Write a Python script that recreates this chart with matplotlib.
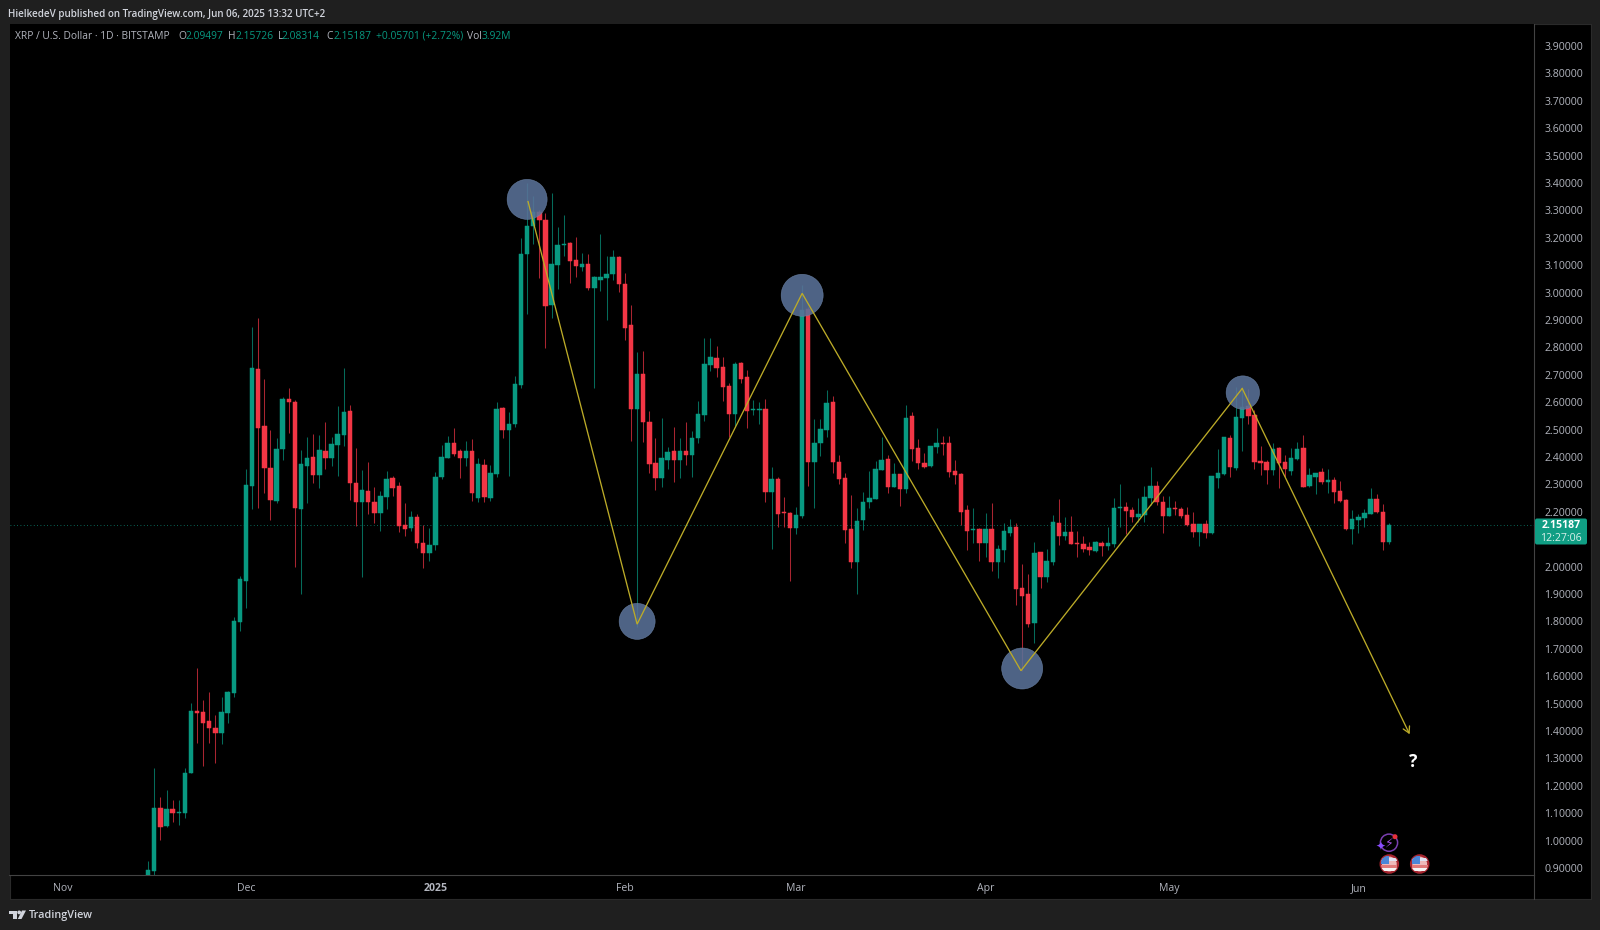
import matplotlib
matplotlib.use("Agg")
import matplotlib.pyplot as plt
import numpy as np
import pandas as pd
from matplotlib.patches import Circle, Rectangle, Polygon, FancyBboxPatch

plt.rcParams["font.family"] = ["Open Sans", "DejaVu Sans"]

## daily candles
dates = pd.date_range("2024-11-15", "2025-06-06")

opens = [
    0.87, 0.89, 1.12, 1.054, 1.115, 1.10, 1.10, 1.246, 1.473, 1.47,
    1.435, 1.412, 1.393, 1.467, 1.54, 1.797, 1.947, 2.295, 2.722, 2.513,
    2.361, 2.239, 2.429, 2.612, 2.602, 2.209, 2.367, 2.399, 2.335, 2.422,
    2.396, 2.444, 2.481, 2.568, 2.306, 2.235, 2.276, 2.237, 2.194, 2.255,
    2.325, 2.294, 2.152, 2.14, 2.181, 2.086, 2.048, 2.08, 2.327, 2.397,
    2.452, 2.421, 2.398, 2.421, 2.25, 2.37, 2.25, 2.337, 2.577, 2.5,
    2.519, 2.662, 3.142, 3.243, 3.294, 3.265, 2.954, 3.10, 3.173, 3.18,
    3.118, 3.093, 3.106, 3.016, 3.046, 3.053, 3.067, 3.13, 3.033, 2.881,
    2.576, 2.702, 2.526, 2.379, 2.324, 2.389, 2.421, 2.39, 2.423, 2.409,
    2.471, 2.553, 2.735, 2.76, 2.73, 2.659, 2.557, 2.744, 2.69, 2.571,
    2.571, 2.576, 2.272, 2.32, 2.198, 2.197, 2.142, 2.186, 2.939, 2.383,
    2.45, 2.499, 2.6, 2.383, 2.323, 2.136, 2.016, 2.17, 2.235, 2.247,
    2.353, 2.393, 2.292, 2.338, 2.282, 2.55, 2.434, 2.377, 2.367, 2.438,
    2.451, 2.451, 2.349, 2.338, 2.207, 2.134, 2.136, 2.085, 2.138, 2.018,
    2.061, 2.122, 2.144, 1.921, 1.899, 1.793, 2.055, 1.961, 2.018, 2.158,
    2.112, 2.127, 2.087, 2.083, 2.07, 2.057, 2.087, 2.076, 2.083, 2.214,
    2.217, 2.207, 2.18, 2.189, 2.25, 2.295, 2.237, 2.186, 2.212, 2.209,
    2.188, 2.155, 2.128, 2.155, 2.122, 2.325, 2.338, 2.471, 2.359, 2.544,
    2.586, 2.553, 2.387, 2.381, 2.353, 2.432, 2.381, 2.35, 2.391, 2.432,
    2.294, 2.326, 2.345, 2.308, 2.316, 2.276, 2.243, 2.136, 2.17, 2.179,
    2.192, 2.247, 2.2, 2.091,
]
highs = [
    0.927, 1.264, 1.158, 1.185, 1.148, 1.148, 1.264, 1.501, 1.631, 1.513,
    1.541, 1.458, 1.525, 1.546, 1.815, 1.965, 2.356, 2.873, 2.906, 2.683,
    2.499, 2.468, 2.62, 2.651, 2.608, 2.426, 2.474, 2.484, 2.48, 2.529,
    2.472, 2.586, 2.724, 2.589, 2.432, 2.352, 2.383, 2.292, 2.276, 2.349,
    2.331, 2.31, 2.233, 2.203, 2.191, 2.151, 2.14, 2.346, 2.443, 2.476,
    2.504, 2.428, 2.458, 2.464, 2.395, 2.391, 2.37, 2.599, 2.581, 2.563,
    2.696, 3.198, 3.398, 3.352, 3.303, 3.289, 3.362, 3.238, 3.283, 3.185,
    3.204, 3.143, 3.14, 3.06, 3.213, 3.133, 3.155, 3.133, 3.07, 2.954,
    2.784, 2.788, 2.569, 2.468, 2.541, 2.437, 2.508, 2.47, 2.529, 2.496,
    2.604, 2.835, 2.833, 2.805, 2.764, 2.669, 2.748, 2.748, 2.718, 2.608,
    2.602, 2.61, 2.365, 2.328, 2.253, 2.198, 2.219, 3.028, 2.949, 2.539,
    2.539, 2.645, 2.623, 2.407, 2.34, 2.261, 2.213, 2.271, 2.349, 2.387,
    2.474, 2.407, 2.377, 2.338, 2.59, 2.563, 2.464, 2.413, 2.44, 2.505,
    2.478, 2.478, 2.389, 2.34, 2.225, 2.213, 2.14, 2.194, 2.233, 2.08,
    2.158, 2.173, 2.158, 2.01, 1.973, 2.089, 2.055, 2.063, 2.189, 2.246,
    2.18, 2.183, 2.13, 2.113, 2.088, 2.095, 2.095, 2.144, 2.25, 2.301,
    2.235, 2.217, 2.25, 2.295, 2.362, 2.314, 2.256, 2.258, 2.241, 2.219,
    2.217, 2.198, 2.155, 2.17, 2.329, 2.428, 2.474, 2.48, 2.657, 2.644,
    2.648, 2.572, 2.44, 2.389, 2.45, 2.435, 2.407, 2.432, 2.456, 2.479,
    2.36, 2.343, 2.359, 2.355, 2.326, 2.314, 2.245, 2.207, 2.192, 2.209,
    2.286, 2.265, 2.228, 2.158,
]
lows = [
    0.87, 0.874, 1.002, 1.05, 1.069, 1.057, 1.081, 1.246, 1.355, 1.273,
    1.357, 1.284, 1.353, 1.43, 1.525, 1.766, 1.849, 2.209, 2.213, 2.27,
    2.17, 2.231, 2.389, 2.486, 2.0, 1.90, 2.231, 2.306, 2.286, 2.355,
    2.367, 2.331, 2.44, 2.243, 2.148, 1.962, 2.191, 2.158, 2.13, 2.209,
    2.259, 2.128, 2.112, 2.131, 2.067, 1.994, 2.02, 2.06, 2.32, 2.395,
    2.403, 2.325, 2.367, 2.24, 2.235, 2.235, 2.24, 2.328, 2.47, 2.33,
    2.51, 2.65, 2.92, 3.177, 3.054, 2.799, 2.908, 3.012, 3.133, 3.036,
    3.055, 3.078, 3.009, 2.65, 3.007, 2.90, 3.046, 3.003, 2.827, 2.459,
    1.78, 2.455, 2.342, 2.28, 2.29, 2.355, 2.31, 2.322, 2.37, 2.328,
    2.45, 2.531, 2.713, 2.693, 2.606, 2.474, 2.511, 2.669, 2.507, 2.552,
    2.52, 2.237, 2.063, 2.146, 2.143, 1.949, 2.119, 2.176, 2.294, 2.213,
    2.405, 2.474, 2.34, 2.301, 2.085, 1.994, 1.90, 2.134, 2.215, 2.247,
    2.353, 2.27, 2.29, 2.221, 2.267, 2.385, 2.355, 2.359, 2.365, 2.416,
    2.407, 2.326, 2.301, 2.152, 2.061, 2.085, 2.022, 2.036, 1.985, 1.96,
    2.015, 2.112, 1.86, 1.62, 1.779, 1.72, 1.921, 1.945, 2.004, 2.079,
    2.098, 2.083, 2.034, 2.055, 2.043, 2.055, 2.04, 2.061, 2.071, 2.146,
    2.119, 2.164, 2.164, 2.164, 2.225, 2.225, 2.124, 2.185, 2.189, 2.177,
    2.149, 2.107, 2.076, 2.106, 2.12, 2.286, 2.336, 2.328, 2.353, 2.423,
    2.52, 2.355, 2.334, 2.301, 2.334, 2.286, 2.326, 2.333, 2.389, 2.289,
    2.292, 2.265, 2.3, 2.27, 2.231, 2.237, 2.133, 2.081, 2.124, 2.143,
    2.192, 2.194, 2.061, 2.083,
]
closes = [
    0.893, 1.12, 1.051, 1.114, 1.10, 1.103, 1.248, 1.473, 1.467, 1.428,
    1.41, 1.393, 1.469, 1.542, 1.803, 1.955, 2.298, 2.725, 2.507, 2.359,
    2.243, 2.43, 2.612, 2.602, 2.213, 2.374, 2.396, 2.334, 2.424, 2.396,
    2.447, 2.484, 2.564, 2.306, 2.235, 2.28, 2.235, 2.194, 2.258, 2.32,
    2.288, 2.148, 2.136, 2.18, 2.085, 2.048, 2.079, 2.327, 2.40, 2.452,
    2.41, 2.396, 2.421, 2.27, 2.374, 2.255, 2.342, 2.574, 2.5, 2.522,
    2.668, 3.14, 3.243, 3.294, 3.265, 2.951, 3.103, 3.172, 3.177, 3.116,
    3.097, 3.106, 3.016, 3.055, 3.055, 3.067, 3.128, 3.031, 2.872, 2.576,
    2.702, 2.526, 2.376, 2.324, 2.398, 2.417, 2.389, 2.421, 2.409, 2.471,
    2.556, 2.739, 2.763, 2.726, 2.657, 2.557, 2.739, 2.685, 2.568, 2.574,
    2.574, 2.272, 2.32, 2.192, 2.194, 2.142, 2.188, 2.937, 2.383, 2.452,
    2.501, 2.598, 2.381, 2.32, 2.134, 2.016, 2.166, 2.237, 2.25, 2.355,
    2.389, 2.292, 2.338, 2.282, 2.542, 2.429, 2.377, 2.365, 2.44, 2.451,
    2.449, 2.345, 2.336, 2.2, 2.131, 2.136, 2.085, 2.138, 2.018, 2.063,
    2.13, 2.144, 1.917, 1.893, 1.79, 2.05, 1.961, 2.022, 2.161, 2.113,
    2.126, 2.083, 2.084, 2.063, 2.061, 2.089, 2.076, 2.087, 2.214, 2.217,
    2.203, 2.18, 2.192, 2.253, 2.295, 2.234, 2.186, 2.212, 2.209, 2.183,
    2.151, 2.128, 2.155, 2.124, 2.329, 2.34, 2.472, 2.365, 2.545, 2.584,
    2.55, 2.383, 2.379, 2.353, 2.428, 2.377, 2.355, 2.396, 2.43, 2.289,
    2.333, 2.343, 2.308, 2.316, 2.273, 2.241, 2.136, 2.174, 2.182, 2.197,
    2.247, 2.198, 2.091, 2.152,
]

last_price = 2.15187

## axis labels
month_dates = ["2024-11-01", "2024-12-01", "2025-01-01", "2025-02-01",
               "2025-03-01", "2025-04-01", "2025-05-01", "2025-06-01"]
month_labels = ["Nov", "Dec", "2025", "Feb", "Mar", "Apr", "May", "Jun"]
price_ticks = [0.9, 1.0, 1.1, 1.2, 1.3, 1.4, 1.5, 1.6, 1.7, 1.8, 1.9, 2.0,
               2.2, 2.3, 2.4, 2.5, 2.6, 2.7, 2.8, 2.9, 3.0, 3.1, 3.2, 3.3,
               3.4, 3.5, 3.6, 3.7, 3.8, 3.9]

## drawing on the chart: yellow zigzag and the blue circles, x in days since Nov 1
zigzag_days = [76.15, 94.0, 121.0, 156.8, 193.0, 220.4]
zigzag_prices = [3.332, 1.79, 2.997, 1.62, 2.65, 1.388]
circle_days = [76.0, 94.0, 121.0, 157.0, 193.1]
circle_prices = [3.34, 1.80, 2.99, 1.628, 2.635]
circle_radius_px = [20, 18, 21, 20.5, 16.7]

GREEN = "#089981"
RED = "#f23645"
TEXT = "#b2b5be"
LINE = "#434343"
YELLOW = "#bcab28"
W, H = 1600, 930
ORIGIN = pd.Timestamp("2024-11-01")


def day(d):
    return (pd.to_datetime(d) - ORIGIN).days + 0.0


def px_axes(left, top, right, bottom, **kw):
    return fig.add_axes([left / W, 1 - bottom / H, (right - left) / W, (bottom - top) / H], **kw)


fig = plt.figure(figsize=(16, 9.3), dpi=100, facecolor="#1f1f1f")

## panel behind the chart
panel = px_axes(9.5, 24, 1590.5, 899, facecolor="black")
panel.set_xticks([])
panel.set_yticks([])
for s in panel.spines.values():
    s.set_color("#2a2a2a")
    s.set_linewidth(0.8)

ax = px_axes(9.5, 24, 1534, 875, facecolor="black")
ax.set_xlim(-8.69, 240.74)
ax.set_ylim(0.8745, 3.980)

x = np.array([(d - ORIGIN).days for d in dates], dtype=float)
o = np.array(opens)
h = np.array(highs)
l = np.array(lows)
c = np.array(closes)
up = c >= o
colors = np.where(up, GREEN, RED)

ax.vlines(x, l, h, colors=list(colors), linewidth=0.75, alpha=0.7, zorder=2)
ax.bar(x, c - o, bottom=o, width=0.72, color=list(colors), edgecolor=list(colors),
       linewidth=0.35, zorder=3)

ax.axhline(last_price, color="#0b8a74", linewidth=0.6, linestyle=(0, (1, 3)), zorder=1)

ax.scatter(circle_days, circle_prices,
           s=[(2 * r * 0.72) ** 2 for r in circle_radius_px],
           facecolor="#5a7299", edgecolor="#6c83a6", linewidth=0.4, alpha=0.88, zorder=4)

ax.plot(zigzag_days[:-1], zigzag_prices[:-1], color=YELLOW, linewidth=0.95, zorder=5, solid_joinstyle="miter")
ax.annotate("", xy=(zigzag_days[-1], zigzag_prices[-1]), xytext=(zigzag_days[-2], zigzag_prices[-2]),
            arrowprops=dict(arrowstyle="->,head_length=0.45,head_width=0.25", color=YELLOW,
                            linewidth=0.95, shrinkA=0, shrinkB=0), zorder=5)
ax.text(221.0, 1.287, "?", color="white", fontsize=12.5, fontweight="bold",
        ha="center", va="center", zorder=6)

ax.set_xticks([day(d) for d in month_dates])
ax.set_xticklabels(month_labels)
ax.yaxis.tick_right()
ax.set_yticks(price_ticks)
ax.set_yticklabels(["%.5f" % p for p in price_ticks])
ax.tick_params(axis="x", length=0, pad=6, labelsize=7.6, colors=TEXT)
ax.tick_params(axis="y", length=0, pad=7.5, labelsize=7.6, colors=TEXT)
ax.get_xticklabels()[2].set_fontweight("bold")
for name, s in ax.spines.items():
    s.set_visible(name in ("right", "bottom"))
    s.set_color(LINE)
    s.set_linewidth(0.8)

## everything around the chart goes on a full-figure overlay in pixels
top = fig.add_axes([0, 0, 1, 1], zorder=10)
top.set_xlim(0, W)
top.set_ylim(H, 0)
top.axis("off")

top.plot([1534, 1534], [875, 899], color=LINE, linewidth=0.8)

top.text(8, 14, "HielkedeV published on TradingView.com, Jun 06, 2025 13:32 UTC+2",
         color="#d1d4dc", fontsize=7.15, fontweight="semibold", va="center")

legend_row = [(15, "XRP / U.S. Dollar · 1D · BITSTAMP", TEXT),
              (178, "O", TEXT), (186, "2.09497", GREEN),
              (228, "H", TEXT), (235, "2.15726", GREEN),
              (278, "L", TEXT), (282, "2.08314", GREEN),
              (326, "C", TEXT), (333, "2.15187", GREEN),
              (376, "+0.05701 (+2.72%)", GREEN),
              (467, "Vol", TEXT), (482, "3.92M", GREEN)]
for lx, txt, col in legend_row:
    top.text(lx, 36.5, txt, color=col, fontsize=7.4, va="center")

## last price tag
top.add_patch(FancyBboxPatch((1535, 518.5), 52, 26, boxstyle="round,pad=0,rounding_size=2",
                             facecolor="#109e84", edgecolor="none"))
top.text(1561, 525.5, "2.15187", color="white", fontsize=7.6, fontweight="bold", ha="center", va="center")
top.text(1561, 538, "12:27:06", color="#d8f0ea", fontsize=7.6, ha="center", va="center")

## TradingView logo
logo = "#d1d4dc"
top.add_patch(Polygon([(9, 910.5), (17, 910.5), (17, 919), (13, 919), (13, 914), (9, 914)], facecolor=logo))
top.add_patch(Circle((19.2, 912.4), 1.9, facecolor=logo))
top.add_patch(Polygon([(22, 910.5), (26, 910.5), (21.5, 919), (17.8, 919)], facecolor=logo))
top.text(29, 915, "TradingView", color=logo, fontsize=7.8, fontweight="semibold", va="center")


## event icons at the foot of the chart
def flag(cx, cy):
    ring = Circle((cx, cy), 8.6, facecolor="#eeb9b9", edgecolor="#a5242e", linewidth=1.7)
    top.add_patch(ring)
    for y0, col in ((cy - 6.5, "#dfe3f2"), (cy + 0.5, "#e07a7a"), (cy + 4, "#f5f5f5")):
        r = Rectangle((cx - 8, y0), 16, 3, facecolor=col, edgecolor="none")
        top.add_patch(r)
        r.set_clip_path(ring)
    q = Rectangle((cx - 8, cy - 8), 8, 8, facecolor="#4a86d8", edgecolor="none")
    top.add_patch(q)
    q.set_clip_path(ring)


flag(1389.3, 864)
flag(1419.7, 864)
top.add_patch(Circle((1389, 842.7), 8.6, facecolor="none", edgecolor="#7a3fb0", linewidth=1.1))
top.text(1389, 843, "\u26a1", color="#a050e0", fontsize=9, ha="center", va="center", family=["DejaVu Sans"])
top.text(1380, 845.7, "\u2726", color="#8a4dff", fontsize=8.5, ha="center", va="center", family=["DejaVu Sans"])
top.add_patch(Circle((1395, 836.7), 2.5, facecolor="#e5303c"))

fig.savefig("out.png", dpi=100, facecolor=fig.get_facecolor())
